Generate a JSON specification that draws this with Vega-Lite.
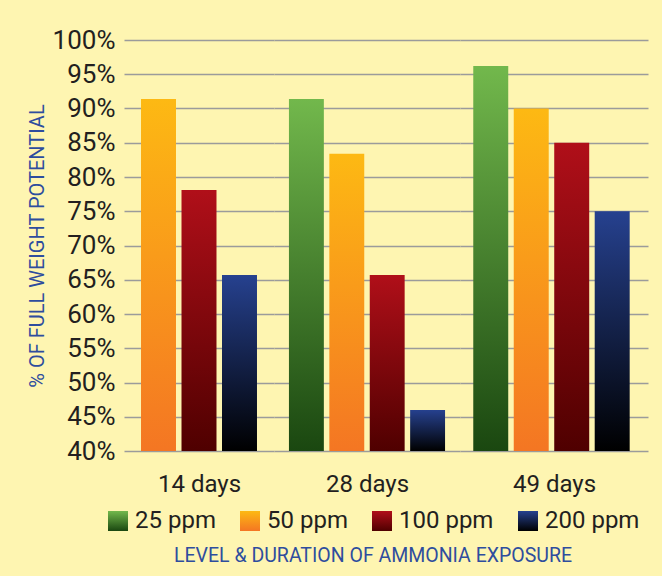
{
  "$schema": "https://vega.github.io/schema/vega-lite/v6.json",
  "background": "#FEF5B1",
  "padding": {"left": 27, "top": 27, "right": 15, "bottom": 10},
  "config": {
    "font": "Roboto",
    "view": {"stroke": null},
    "axis": {"gridColor": "#9B9B9B", "gridWidth": 1.3, "gridOpacity": 1}
  },
  "datasets": {
    "rows": [
      {"day": "14 days", "ppm": "50 ppm", "value": 91.4},
      {"day": "14 days", "ppm": "100 ppm", "value": 78.1},
      {"day": "14 days", "ppm": "200 ppm", "value": 65.7},
      {"day": "28 days", "ppm": "25 ppm", "value": 91.4},
      {"day": "28 days", "ppm": "50 ppm", "value": 83.4},
      {"day": "28 days", "ppm": "100 ppm", "value": 65.7},
      {"day": "28 days", "ppm": "200 ppm", "value": 46.0},
      {"day": "49 days", "ppm": "25 ppm", "value": 96.2},
      {"day": "49 days", "ppm": "50 ppm", "value": 90.0},
      {"day": "49 days", "ppm": "100 ppm", "value": 85.0},
      {"day": "49 days", "ppm": "200 ppm", "value": 75.0}
    ]
  },
  "data": {"name": "rows"},
  "spacing": 0,
  "bounds": "flush",
  "align": "none",
  "resolve": {"scale": {"color": "shared", "y": "shared"}, "legend": {"color": "shared"}},
  "hconcat": [
    {
      "width": 150,
      "height": 411,
      "transform": [{"filter": "datum.day === '14 days'"}],
      "mark": {"type": "bar", "clip": true},
      "encoding": {
        "x": {"field": "ppm", "type": "nominal",
          "scale": {"domain": ["50 ppm", "100 ppm", "200 ppm"], "paddingInner": 0.136, "paddingOuter": 0.42},
          "axis": {"title": "14 days", "labels": false, "ticks": false, "domain": false, "grid": false,
            "titleFontSize": 24, "titleFontWeight": "normal", "titleColor": "#231F20", "titlePadding": 21}},
        "y": {"field": "value", "type": "quantitative",
          "scale": {"domain": [40, 100], "zero": false, "nice": false},
          "axis": {"values": [40, 45, 50, 55, 60, 65, 70, 75, 80, 85, 90, 95, 100],
            "labelExpr": "datum.value + '%'", "title": "% OF FULL WEIGHT POTENTIAL",
            "titleFontSize": 20, "titleFontWeight": "normal", "titleColor": "#2E4D9E", "titlePadding": 5,
            "labelFontSize": 26, "labelColor": "#231F20", "labelPadding": 9,
            "ticks": false, "domain": false, "grid": true}},
        "y2": {"datum": 40},
        "color": {"field": "ppm", "type": "nominal",
          "scale": {"domain": ["25 ppm", "50 ppm", "100 ppm", "200 ppm"], "range": [
            {"expr": "{gradient: 'linear', x1: 0, y1: 0, x2: 0, y2: 1, stops: [{offset: 0, color: '#72B84C'}, {offset: 1, color: '#1A4710'}]}"},
            {"expr": "{gradient: 'linear', x1: 0, y1: 0, x2: 0, y2: 1, stops: [{offset: 0, color: '#FDB913'}, {offset: 1, color: '#F47623'}]}"},
            {"expr": "{gradient: 'linear', x1: 0, y1: 0, x2: 0, y2: 1, stops: [{offset: 0, color: '#B00F19'}, {offset: 1, color: '#4F0000'}]}"},
            {"expr": "{gradient: 'linear', x1: 0, y1: 0, x2: 0, y2: 1, stops: [{offset: 0, color: '#26418F'}, {offset: 1, color: '#000000'}]}"}
          ]},
          "legend": {"orient": "none", "legendX": -18, "legendY": 469, "direction": "horizontal", "columns": 4,
            "title": "LEVEL & DURATION OF AMMONIA EXPOSURE", "titleOrient": "bottom", "titleAnchor": "middle",
            "titleFontSize": 19.5, "titleFontWeight": "normal", "titleColor": "#2E4D9E", "titlePadding": 14, "titleLimit": 700,
            "symbolType": "square", "symbolSize": 400, "symbolStrokeWidth": 0,
            "labelFontSize": 24, "labelColor": "#231F20", "labelOffset": 5, "columnPadding": 22, "labelLimit": 200}}
      }
    },
    {
      "width": 186,
      "height": 411,
      "transform": [{"filter": "datum.day === '28 days'"}],
      "mark": {"type": "bar", "clip": true},
      "encoding": {
        "x": {"field": "ppm", "type": "nominal",
          "scale": {"domain": ["25 ppm", "50 ppm", "100 ppm", "200 ppm"], "paddingInner": 0.136, "paddingOuter": 0.37},
          "axis": {"title": "28 days", "labels": false, "ticks": false, "domain": false, "grid": false,
            "titleFontSize": 24, "titleFontWeight": "normal", "titleColor": "#231F20", "titlePadding": 21}},
        "y": {"field": "value", "type": "quantitative",
          "scale": {"domain": [40, 100], "zero": false, "nice": false},
          "axis": {"values": [40, 45, 50, 55, 60, 65, 70, 75, 80, 85, 90, 95, 100],
            "labels": false, "title": null, "ticks": false, "domain": false, "grid": true}},
        "y2": {"datum": 40},
        "color": {"field": "ppm", "type": "nominal"}
      }
    },
    {
      "width": 188,
      "height": 411,
      "transform": [{"filter": "datum.day === '49 days'"}],
      "mark": {"type": "bar", "clip": true},
      "encoding": {
        "x": {"field": "ppm", "type": "nominal",
          "scale": {"domain": ["25 ppm", "50 ppm", "100 ppm", "200 ppm"], "paddingInner": 0.136, "paddingOuter": 0.39, "align": 0.42},
          "axis": {"title": "49 days", "labels": false, "ticks": false, "domain": false, "grid": false,
            "titleFontSize": 24, "titleFontWeight": "normal", "titleColor": "#231F20", "titlePadding": 21}},
        "y": {"field": "value", "type": "quantitative",
          "scale": {"domain": [40, 100], "zero": false, "nice": false},
          "axis": {"values": [40, 45, 50, 55, 60, 65, 70, 75, 80, 85, 90, 95, 100],
            "labels": false, "title": null, "ticks": false, "domain": false, "grid": true}},
        "y2": {"datum": 40},
        "color": {"field": "ppm", "type": "nominal"}
      }
    }
  ]
}
